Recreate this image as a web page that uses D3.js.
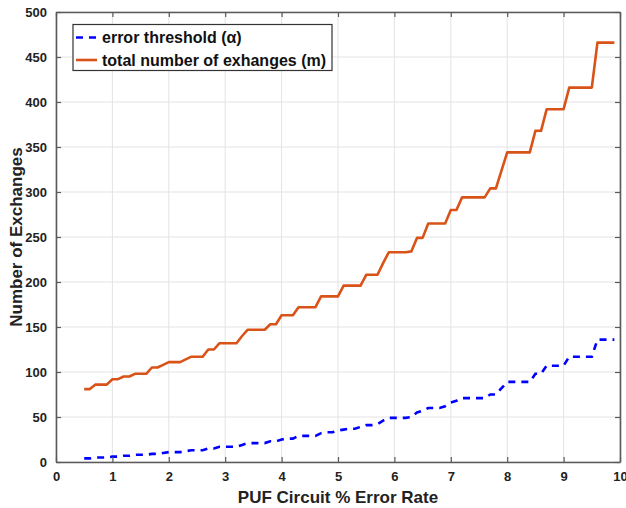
<!DOCTYPE html>
<html><head><meta charset="utf-8">
<script src="https://cdn.jsdelivr.net/npm/d3@7"></script>
<style>body{margin:0;background:#fff;} svg{display:block;}</style>
</head><body>
<svg id="chart" width="626" height="508"></svg>
<script>
// Data (x from 0.5 to 9.9, step 0.1)
const errorRate = [0.5,0.6,0.7,0.8,0.9,1.0,1.1,1.2,1.3,1.4,1.5,1.6,1.7,1.8,1.9,2.0,2.1,2.2,2.3,2.4,2.5,2.6,2.7,2.8,2.9,3.0,3.1,3.2,3.3,3.4,3.5,3.6,3.7,3.8,3.9,4.0,4.1,4.2,4.3,4.4,4.5,4.6,4.7,4.8,4.9,5.0,5.1,5.2,5.3,5.4,5.5,5.6,5.7,5.8,5.9,6.0,6.1,6.2,6.3,6.4,6.5,6.6,6.7,6.8,6.9,7.0,7.1,7.2,7.3,7.4,7.5,7.6,7.7,7.8,7.9,8.0,8.1,8.2,8.3,8.4,8.5,8.6,8.7,8.8,8.9,9.0,9.1,9.2,9.3,9.4,9.5,9.6,9.7,9.8,9.9];
const errorThreshold = [4,4,5,5,5,6,6,7,7,8,8,8,9,9,10,11,11,11,12,13,13,13,15,15,17,17,17,17,19,21,21,21,21,23,23,25,26,26,29,29,29,29,32,33,33,35,36,37,37,39,41,41,42,46,49,49,49,49,50,55,57,60,60,60,62,66,68,71,71,71,71,71,75,75,82,89,89,89,89,89,98,98,107,107,107,107,117,117,117,117,117,136,136,136,136];
const totalExchanges = [81,81,86,86,86,92,92,95,95,98,98,98,105,105,108,111,111,111,114,117,117,117,125,125,132,132,132,132,140,147,147,147,147,153,153,163,163,163,172,172,172,172,184,184,184,184,196,196,196,196,208,208,208,221,233,233,233,233,234,249,249,265,265,265,265,280,280,294,294,294,294,294,304,304,324,344,344,344,344,344,368,368,392,392,392,392,416,416,416,416,416,466,466,466,466];
const xTicks = [0,1,2,3,4,5,6,7,8,9,10];
const yTicks = [0,50,100,150,200,250,300,350,400,450,500];
const seriesNames = ["error threshold (\u03B1)", "total number of exhanges (m)"];
const xTitle = "PUF Circuit % Error Rate";
const yTitle = "Number of Exchanges";

const svg = d3.select("#chart");
const m = {left:56, right:6, top:12, bottom:46};
const W = 626, H = 508;
const x = d3.scaleLinear().domain([0,10]).range([m.left, W-m.right]);
const y = d3.scaleLinear().domain([0,500]).range([H-m.bottom, m.top]);
const font = "'Liberation Sans', Arial, Helvetica, sans-serif";
const axisColor = "#5a5a5a";

// grid
const g = svg.append("g");
g.selectAll("line.gx").data(xTicks).join("line")
  .attr("x1", d=>x(d)).attr("x2", d=>x(d)).attr("y1", y(0)).attr("y2", y(500))
  .attr("stroke", "#e3e3e3").attr("stroke-width", 1);
g.selectAll("line.gy").data(yTicks).join("line")
  .attr("y1", d=>y(d)).attr("y2", d=>y(d)).attr("x1", x(0)).attr("x2", x(10))
  .attr("stroke", "#e3e3e3").attr("stroke-width", 1);

// lines
const line = d3.line().x((d,i)=>x(errorRate[i])).y(d=>y(d));
svg.append("path").datum(totalExchanges).attr("d", line)
  .attr("fill","none").attr("stroke","#D95319").attr("stroke-width",2.6).attr("stroke-linejoin","round");
svg.append("path").datum(errorThreshold).attr("d", line)
  .attr("fill","none").attr("stroke","#0000FF").attr("stroke-width",2.6).attr("stroke-dasharray","7,6");

// axes
const xAxis = d3.axisBottom(x).tickValues(xTicks).tickSizeInner(-5).tickSizeOuter(0).tickPadding(12);
const yAxis = d3.axisLeft(y).tickValues(yTicks).tickSizeInner(-5).tickSizeOuter(0).tickPadding(12);
const gx = svg.append("g").attr("transform",`translate(0,${y(0)})`).call(xAxis);
const gy = svg.append("g").attr("transform",`translate(${x(0)},0)`).call(yAxis);
const gxt = svg.append("g").attr("transform",`translate(0,${y(500)})`).call(d3.axisTop(x).tickValues(xTicks).tickSizeInner(-5).tickSizeOuter(0).tickFormat(""));
const gyr = svg.append("g").attr("transform",`translate(${x(10)},0)`).call(d3.axisRight(y).tickValues(yTicks).tickSizeInner(-5).tickSizeOuter(0).tickFormat(""));
[gx,gy,gxt,gyr].forEach(a=>{
  a.select(".domain").attr("stroke",axisColor).attr("stroke-width",1.6);
  a.selectAll(".tick line").attr("stroke",axisColor).attr("stroke-width",1.2);
  a.selectAll(".tick text").attr("fill","#222").style("font-family",font).style("font-size","13px").style("font-weight","bold");
});
gy.selectAll(".tick text").attr("x",-9);
gx.selectAll(".tick text").attr("y",10);

// titles
svg.append("text").attr("x",(x(0)+x(10))/2).attr("y",503).attr("text-anchor","middle")
  .style("font-family",font).style("font-size","17px").style("font-weight","bold").attr("fill","#222").text(xTitle);
svg.append("text").attr("transform",`translate(22,${(y(0)+y(500))/2}) rotate(-90)`).attr("text-anchor","middle")
  .style("font-family",font).style("font-size","17px").style("font-weight","bold").attr("fill","#222").text(yTitle);

// legend
const lg = svg.append("g");
lg.append("rect").attr("x",73).attr("y",24.5).attr("width",259).attr("height",46)
  .attr("fill","#fff").attr("stroke","#333").attr("stroke-width",1.2);
const legItems = [{name:seriesNames[0], color:"#0000FF", dash:"7,6"},{name:seriesNames[1], color:"#D95319", dash:null}];
legItems.forEach((it,i)=>{
  const yy = 37.5 + i*22.5;
  lg.append("line").attr("x1",76).attr("x2",97).attr("y1",yy).attr("y2",yy)
    .attr("stroke",it.color).attr("stroke-width",2.6).attr("stroke-dasharray",it.dash);
  lg.append("text").attr("x",102).attr("y",yy+5.5)
    .style("font-family",font).style("font-size","16px").style("font-weight","bold").attr("fill","#111").text(it.name);
});
</script>
</body></html>
